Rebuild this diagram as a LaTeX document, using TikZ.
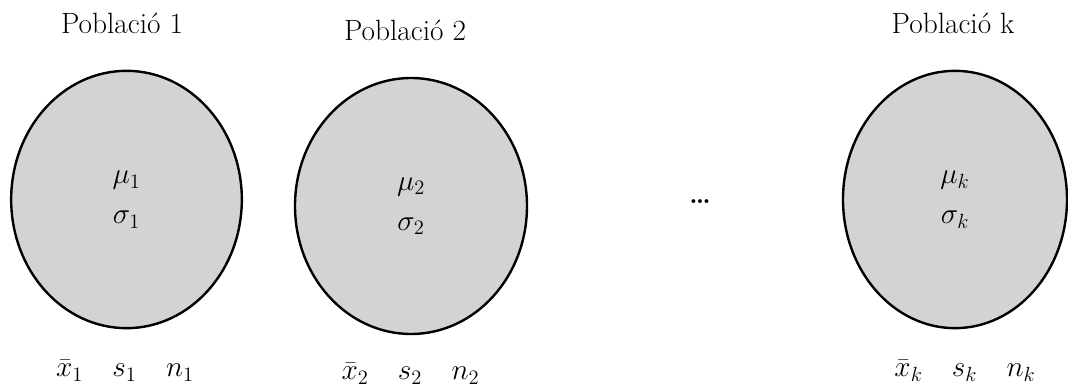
\RequirePackage{fix-cm}
\documentclass[tikz,border=0pt]{standalone}
\usepackage{tikz}
\usetikzlibrary{positioning,shapes.geometric}
\definecolor{popgray}{RGB}{211,211,211}

\begin{document}
\begin{tikzpicture}[x=0.75pt, y=-0.75pt,
    popu/.style={ellipse, draw=black, line width=1.8pt, fill=popgray, align=center, inner sep=0pt, font=\fontsize{22}{26}\selectfont},
    poptitle/.style={anchor=base, font=\fontsize{22}{26}\selectfont},
    popstat/.style={anchor=base, font=\fontsize{22}{26}\selectfont}]
    \useasboundingbox (0,0) rectangle (1068,388);

    % Poblacio 1 (left)
    \node[popu, minimum width=173pt, minimum height=193pt] (pop1) at (126.5,199.5) {$\mu_1$\\[4pt]$\sigma_1$};
    \node[poptitle] (title1) at (122,34) {Població 1};
    \node[popstat] (stat1) at (125,377) {$\bar{x}_1\quad s_1\quad n_1$};

    % Poblacio 2 (middle)
    \node[popu, minimum width=174pt, minimum height=192pt] (pop2) at (411,206) {$\mu_2$\\[4pt]$\sigma_2$};
    \node[poptitle] (title2) at (405,41) {Població 2};
    \node[popstat] (stat2) at (410.5,380) {$\bar{x}_2\quad s_2\quad n_2$};

    % dots between
    \node[font=\fontsize{20}{24}\bfseries] (dots) at (700,202) {\ldots};

    % Poblacio k (right)
    \node[popu, minimum width=168pt, minimum height=193pt] (popk) at (955,199.5) {$\mu_k$\\[4pt]$\sigma_k$};
    \node[poptitle] (titlek) at (953,34) {Població k};
    \node[popstat] (statk) at (965,377) {$\bar{x}_k\quad s_k\quad n_k$};
\end{tikzpicture}
\end{document}
